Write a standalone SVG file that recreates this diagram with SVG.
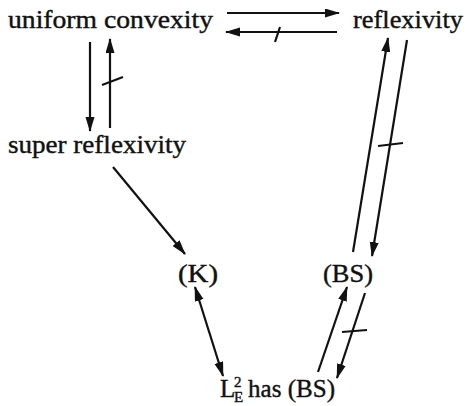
<svg xmlns="http://www.w3.org/2000/svg" width="467" height="406" viewBox="0 0 467 406">
<style>
text{font-family:"Liberation Serif","Times New Roman",serif;font-size:25px;fill:#111;stroke:#111;stroke-width:0.4}
.sm{font-size:15px}
.c line{stroke:#111;stroke-width:2.2}
.c .a{marker-end:url(#ah)}
.c .d{marker-start:url(#ah);marker-end:url(#ah)}
</style>
<defs>
<marker id="ah" markerUnits="userSpaceOnUse" markerWidth="16" markerHeight="10" refX="14" refY="4.5" orient="auto-start-reverse">
<path d="M0,0 L15,4.5 L0,9 Z" fill="#111"/>
</marker>
</defs>
<rect width="467" height="406" fill="#fff"/>
<g id="uniform-convexity"><text x="8" y="28" textLength="205" lengthAdjust="spacingAndGlyphs">uniform convexity</text></g>
<g id="reflexivity"><text x="353" y="28" textLength="110" lengthAdjust="spacingAndGlyphs">reflexivity</text></g>
<g id="super-reflexivity"><text x="8" y="153" textLength="178" lengthAdjust="spacingAndGlyphs">super reflexivity</text></g>
<g id="K"><text x="178" y="282" textLength="40" lengthAdjust="spacingAndGlyphs">(K)</text></g>
<g id="BS"><text x="323" y="282" textLength="50" lengthAdjust="spacingAndGlyphs">(BS)</text></g>
<g id="L2E"><text x="220" y="397">L</text><text class="sm" x="234" y="387">2</text><text class="sm" x="234" y="402">E</text><text x="248" y="397" textLength="87" lengthAdjust="spacingAndGlyphs">has (BS)</text></g>
<g class="c" id="connectors">
<line class="a" x1="227" y1="13" x2="339" y2="13"/>
<line class="a" x1="337" y1="32" x2="226" y2="32"/>
<line x1="275" y1="42" x2="280" y2="27"/>
<line class="a" x1="90" y1="42" x2="90" y2="131"/>
<line class="a" x1="110" y1="128" x2="110" y2="39"/>
<line x1="102" y1="85" x2="123" y2="77"/>
<line class="a" x1="113" y1="167" x2="185" y2="254"/>
<line class="a" x1="353" y1="252" x2="388" y2="38"/>
<line class="a" x1="407" y1="40" x2="372" y2="256"/>
<line x1="378" y1="146" x2="403" y2="143"/>
<line class="d" x1="195" y1="287" x2="223" y2="376"/>
<line class="a" x1="318" y1="372" x2="347" y2="287"/>
<line class="a" x1="365" y1="293" x2="337" y2="378"/>
<line x1="342" y1="332" x2="367" y2="330"/>
</g>
</svg>
